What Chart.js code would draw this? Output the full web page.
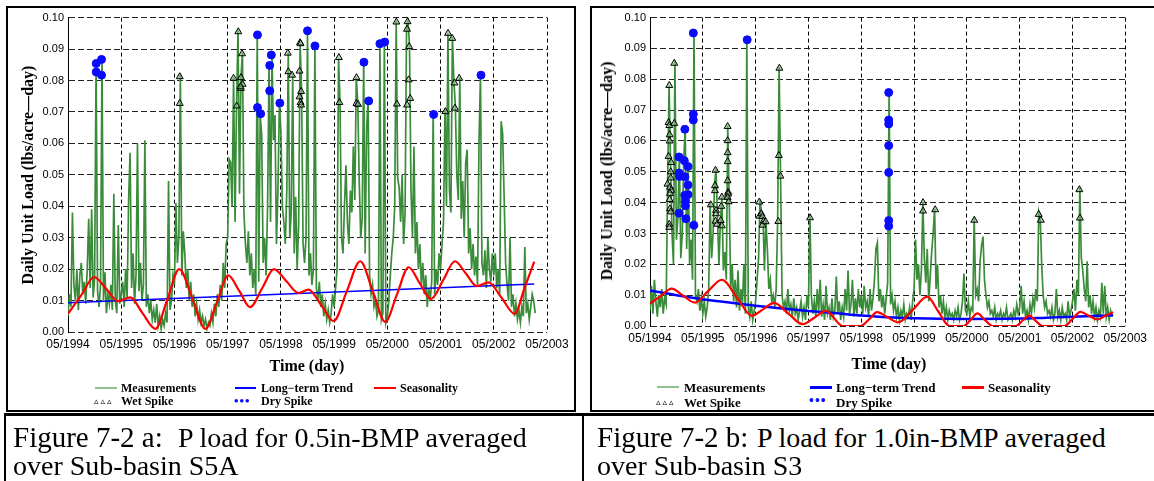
<!DOCTYPE html>
<html>
<head>
<meta charset="utf-8">
<script src="https://cdn.jsdelivr.net/npm/chart.js@4/dist/chart.umd.min.js"></script>
<style>
  body { margin: 0; width: 1154px; height: 481px; background: #fff; position: relative; overflow: hidden; }
  .abs { position: absolute; }
  .box { position: absolute; border: 2px solid #000; box-sizing: border-box; }
  .bold { position: absolute; font-family: "Liberation Serif", serif; font-weight: bold; color: #000; white-space: nowrap; line-height: 1; transform: translateY(-50%); }
  .ytitle { position: absolute; font-family: "Liberation Serif", serif; font-weight: bold; font-size: 16px; white-space: nowrap; line-height: 1; transform: translate(-50%, -50%) rotate(-90deg); }
  .xtitle { position: absolute; font-family: "Liberation Serif", serif; font-weight: bold; font-size: 16px; white-space: nowrap; line-height: 1; transform: translate(-50%, -50%); }
  .cap { position: absolute; font-family: "Liberation Serif", serif; color: #000; white-space: nowrap; line-height: 1; }
  .sw { position: absolute; }
  canvas { position: absolute; }
</style>
</head>
<body>

<div class="box" style="left:6px;top:6px;width:570px;height:406px"></div>
<div class="box" style="left:590px;top:6px;width:570px;height:406px"></div>

<canvas id="chartA" width="569" height="403" style="left:7px;top:7px"></canvas>
<canvas id="chartB" width="562" height="403" style="left:590px;top:7px"></canvas>

<div class="ytitle" style="left:28px;top:175px">Daily Unit Load (lbs/acre—day)</div>
<div class="ytitle" style="left:607px;top:171px">Daily Unit Load (lbs/acre—day)</div>
<div class="xtitle" style="left:307px;top:366px">Time (day)</div>
<div class="xtitle" style="left:889px;top:364px">Time (day)</div>

<!-- legend, left panel -->
<div class="sw" style="left:95px;top:387px;width:22px;height:2px;background:#8fc08f"></div>
<div class="bold" style="left:121px;top:388px;font-size:12px">Measurements</div>
<div class="sw" style="left:235px;top:387px;width:21px;height:1.5px;background:#0000ff"></div>
<div class="bold" style="left:261px;top:388px;font-size:12px">Long−term Trend</div>
<div class="sw" style="left:374px;top:387px;width:22px;height:1.5px;background:#ff0000"></div>
<div class="bold" style="left:400px;top:388px;font-size:12px">Seasonality</div>
<div class="bold" style="left:94px;top:401px;font-size:9px;font-weight:normal;font-family:'DejaVu Sans';letter-spacing:2px">▵▵▵</div>
<div class="bold" style="left:121px;top:401px;font-size:12px">Wet Spike</div>
<div class="bold" style="left:234px;top:400px;font-size:13px;color:#0a0aff;letter-spacing:1px">•••</div>
<div class="bold" style="left:261px;top:401px;font-size:12px">Dry Spike</div>

<!-- legend, right panel -->
<div class="sw" style="left:657px;top:386px;width:22px;height:2px;background:#8fc08f"></div>
<div class="bold" style="left:684px;top:387px;font-size:13px">Measurements</div>
<div class="sw" style="left:810px;top:386px;width:22px;height:3px;background:#0000ff"></div>
<div class="bold" style="left:836px;top:387px;font-size:13px">Long−term Trend</div>
<div class="sw" style="left:962px;top:386px;width:22px;height:3px;background:#ff0000"></div>
<div class="bold" style="left:988px;top:387px;font-size:13px">Seasonality</div>
<div class="bold" style="left:656px;top:402px;font-size:9px;font-weight:normal;font-family:'DejaVu Sans';letter-spacing:2px">▵▵▵</div>
<div class="bold" style="left:684px;top:402px;font-size:13px">Wet Spike</div>
<div class="bold" style="left:809px;top:401px;font-size:14px;color:#0a0aff;letter-spacing:1px">•••</div>
<div class="bold" style="left:836px;top:402px;font-size:13px">Dry Spike</div>

<!-- caption table -->
<div class="abs" style="left:4px;top:413px;width:1150px;height:3px;background:#000"></div>
<div class="abs" style="left:4px;top:413px;width:2px;height:68px;background:#000"></div>
<div class="abs" style="left:582px;top:413px;width:2px;height:68px;background:#000"></div>
<div class="cap" style="left:13px;top:423px;font-size:29px">Figure 7-2 a:</div>
<div class="cap" style="left:178px;top:424px;font-size:28px">P load for 0.5in-BMP averaged</div>
<div class="cap" style="left:13px;top:452px;font-size:28px">over Sub-basin S5A</div>
<div class="cap" style="left:597px;top:423px;font-size:29px">Figure 7-2 b:</div>
<div class="cap" style="left:757px;top:424px;font-size:28px">P load for 1.0in-BMP averaged</div>
<div class="cap" style="left:597px;top:452px;font-size:28px">over Sub-basin S3</div>

<script>
// time axis is years after 05/1994
var STEP = 1 / 36;   // measurement sampling (about 10 days)
var UNIT = 0.001;    // measurement arrays are in 0.001 lbs/acre-day

// ---- Figure 7-2 a : S5A, 0.5in-BMP ----
var measA = [].concat(
  [5,12,8,38,15,10,20,7,18,22,12,16,9,20,36,14,39,11,17,86,13,8,15,87,10,19,6,12,9,15,7,44,10,6,34,9],
  [12,16,8,20,11,42,57,14,25,9,18,60,13,22,10,15,61,8,12,6,10,4,7,3,9,2,5,1,4,2,6,3,48,7,10,18],
  [15,41,22,30,82,18,32,25,14,20,10,16,8,12,5,9,4,7,3,5,2,4,1,3,2,6,3,9,5,12,8,15,10,22,14,28],
  [30,55,54,40,81,35,72,96,44,81,89,38,28,22,32,18,25,14,20,12,95,16,69,63,22,30,18,40,85,35,88,61,69,28,45,73],
  [64,40,35,28,45,89,30,38,82,25,43,20,34,92,77,28,22,30,96,18,25,15,20,91,14,10,16,8,12,5,9,4,7,3,6,12],
  [8,14,20,87,73,30,25,40,53,35,28,45,38,59,42,81,73,48,30,36,86,25,65,74,18,12,15,8,10,5,7,92,4,6,93,3],
  [5,10,18,25,30,40,99,49,46,35,50,28,38,97,99,91,45,30,59,25,35,20,28,15,22,12,18,8,14,10,16,70,12,20,15,25],
  [20,28,35,71,40,95,45,38,94,80,72,50,42,81,36,48,30,54,58,25,33,20,28,18,24,15,60,82,22,18,26,14,30,20,16,25],
  [18,25,14,20,12,67,63,43,22,15,10,30,8,12,5,9,4,7,3,8,5,27,6,9,4,8,12,10,6]
);
var trendTA = [0, 8.76];
var trendVA = [0.0093, 0.0153];
var seasTA = [0,0.25,0.49,0.72,0.94,1.17,1.40,1.64,1.87,2.09,2.34,2.58,2.80,3.01,3.22,3.42,3.65,3.87,4.10,4.33,
              4.52,4.76,4.99,5.24,5.49,5.73,5.96,6.18,6.40,6.61,6.82,7.05,7.27,7.48,7.68,7.90,8.15,8.39,8.58,8.76];
var seasVA = [0.0058,0.0117,0.0175,0.0137,0.0098,0.011,0.006,0.001,0.0105,0.020,0.0105,0.001,0.0095,0.018,0.013,
              0.0079,0.014,0.020,0.0162,0.0124,0.0135,0.0085,0.0035,0.013,0.0225,0.0128,0.0032,0.0119,0.0206,0.0155,
              0.0105,0.0165,0.0225,0.0185,0.0146,0.0158,0.0108,0.0058,0.0141,0.0224];
var wetTA = [2.10,2.10,3.11,3.17,3.20,3.27,3.25,3.25,3.28,3.24,4.13,4.14,4.21,4.36,4.37,4.35,4.38,4.35,4.37,4.38,
             5.09,5.10,5.42,5.42,5.45,6.17,6.18,6.38,6.37,6.41,6.40,6.43,6.37,7.09,7.14,7.22,7.26,7.27,7.35];
var wetVA = [0.0812,0.0727,0.0807,0.0719,0.0955,0.0885,0.0809,0.0775,0.0788,0.0780,0.0887,0.0828,0.0817,0.0920,
             0.0917,0.0830,0.0765,0.0748,0.0730,0.0722,0.0873,0.0730,0.0809,0.0727,0.0724,0.0986,0.0725,0.0987,
             0.0963,0.0908,0.0802,0.0743,0.0722,0.0701,0.0950,0.0934,0.0792,0.0712,0.0807];
var dryTA = [0.53,0.53,0.63,0.63,3.56,3.56,3.62,3.79,3.82,3.79,3.98,4.50,4.64,5.56,5.65,5.86,5.95,6.87,7.76];
var dryVA = [0.0854,0.0827,0.0867,0.0817,0.0945,0.0714,0.0694,0.0848,0.0881,0.0767,0.0728,0.0958,0.0910,0.0858,
             0.0735,0.0917,0.0922,0.0692,0.0817];

// ---- Figure 7-2 b : S3, 1.0in-BMP ----
var measB = [].concat(
  [5,13,4,15,8,3,10,6,12,4,9,7,46,78,53,30,20,86,28,35,55,22,30,54,64,25,52,20,28,15,95,10,8,12,5,9],
  [4,8,3,6,12,40,22,30,46,51,35,20,34,42,18,24,15,65,41,12,20,8,15,6,18,5,12,7,20,4,93,6,3,8,2,5],
  [8,15,22,41,37,36,18,34,25,12,15,8,10,6,12,34,84,49,10,6,8,4,12,5,7,3,9,4,6,2,5,8,3,6,2,10],
  [6,36,10,4,8,3,12,5,15,3,7,2,13,4,6,2,9,3,5,16,4,8,2,6,3,12,5,18,4,7,15,3,9,4,12,6],
  [10,4,13,6,8,3,12,5,9,15,25,27,8,12,6,10,4,9,14,76,7,10,5,8,3,6,2,5,3,7,2,4,3,6,2,8],
  [12,28,15,20,10,18,40,22,14,25,8,16,24,30,38,12,20,6,10,4,8,3,6,2,5,3,4,2,5,3,6,2,4,8,17,5],
  [4,8,3,6,5,35,10,12,8,21,26,29,15,10,6,8,4,5,3,6,2,4,3,5,2,4,3,6,2,3,4,2,5,3,7,4],
  [6,13,4,8,3,5,2,7,4,9,6,12,8,37,35,20,10,6,8,4,5,3,6,2,4,12,3,5,2,6,3,4,2,8,3,5],
  [8,12,5,15,10,45,22,18,12,8,21,6,10,4,8,3,6,2,5,3,14,4,13,3,6,2,5,3]
);
var trendTB = [0,0.5,1,1.5,2,2.5,3,3.5,4,4.5,5,6,7,7.5,8,8.77];
var trendVB = [0.0115,0.0100,0.0087,0.0076,0.0066,0.0057,0.0049,0.0042,0.0034,0.0028,0.0025,0.0023,0.0024,0.0027,0.003,0.0035];
var seasTB = [0,0.2,0.41,0.63,0.85,1.1,1.36,1.65,1.93,2.14,2.35,2.62,2.89,3.11,3.33,3.65,3.99,4.15,4.30,4.50,4.70,
              4.98,5.25,5.46,5.67,5.94,6.07,6.20,6.34,6.49,6.93,7.05,7.18,7.30,7.43,7.85,8.0,8.15,8.31,8.47,8.62,8.77];
var seasVB = [0.0073,0.0097,0.0121,0.0098,0.0076,0.0113,0.015,0.0091,0.0033,0.0054,0.0075,0.004,0.0006,0.0027,0.0049,
              0,0,0.0022,0.0045,0.0028,0.0012,0.0053,0.0095,0.0047,0,0,0.002,0.0041,0.002,0,0,0.0017,0.0034,0.0017,
              0,0,0.0023,0.0046,0.0033,0.0021,0.0033,0.0045];
var wetTB = [0.365,0.351,0.365,0.372,0.372,0.351,0.40,0.393,0.393,0.331,0.379,0.40,0.379,0.372,0.379,0.393,0.365,0.365,
             0.46,0.46,1.15,1.24,1.23,1.23,1.25,1.25,1.24,1.27,1.36,1.35,1.34,1.36,1.47,1.47,1.47,1.47,1.47,1.48,1.48,
             1.47,1.49,2.07,2.07,2.11,2.13,2.15,2.13,2.19,2.45,2.44,2.47,2.43,3.03,5.17,5.17,5.40,6.14,7.36,7.40,8.13,8.14];
var wetVB = [0.078,0.066,0.065,0.062,0.060,0.055,0.053,0.050,0.048,0.046,0.045,0.044,0.043,0.041,0.038,0.037,0.033,0.032,
             0.0852,0.0657,0.0393,0.0505,0.0455,0.0439,0.0375,0.0364,0.0340,0.0330,0.0418,0.0388,0.0342,0.0325,0.0647,
             0.0601,0.0562,0.0533,0.0471,0.0434,0.0428,0.0417,0.0403,0.0402,0.0356,0.0364,0.0355,0.0340,0.0327,0.0338,
             0.0836,0.0553,0.0486,0.0339,0.0351,0.040,0.0373,0.0377,0.0343,0.0362,0.0343,0.0442,0.035];
var dryTB = [0.82,1.84,0.82,0.82,0.66,0.55,0.65,0.72,0.55,0.56,0.66,0.72,0.72,0.66,0.67,0.67,0.55,0.68,0.83,
             4.52,4.52,4.52,4.52,4.52,4.52,4.52];
var dryVB = [0.0950,0.0928,0.0687,0.0668,0.0638,0.0548,0.0536,0.0517,0.0496,0.0485,0.0484,0.0457,0.0426,0.0424,
             0.0406,0.0390,0.0366,0.0348,0.0327,0.0757,0.0668,0.0655,0.0585,0.0498,0.0342,0.0324];

var startYear = 1994;
var yearCount = 9;

function toPoints(ts, vs) {
  return ts.map(function (t, i) { return { x: t, y: vs[i] }; });
}

function buildChart(id, c) {
  var meas = c.meas.map(function (v, i) { return { x: i * STEP, y: v * UNIT }; });
  return new Chart(document.getElementById(id), {
    type: 'line',
    data: {
      datasets: [
        { data: meas, borderColor: '#3a8c3a', borderWidth: 1.7, pointRadius: 0, order: 5 },
        { data: toPoints(c.trendT, c.trendV), borderColor: '#0000ff', borderWidth: c.trendWidth,
          pointRadius: 0, cubicInterpolationMode: 'monotone', order: 4 },
        { data: toPoints(c.seasT, c.seasV), borderColor: '#ff0000', borderWidth: 2.2,
          pointRadius: 0, cubicInterpolationMode: 'monotone', order: 3 },
        { data: toPoints(c.wetT, c.wetV), showLine: false, pointStyle: 'triangle', pointRadius: 4,
          pointBorderColor: '#000', pointBackgroundColor: 'rgba(140,185,140,0.6)', pointBorderWidth: 1, order: 2 },
        { data: toPoints(c.dryT, c.dryV), showLine: false, pointStyle: 'circle', pointRadius: 4,
          pointBorderColor: '#0a0aff', pointBackgroundColor: '#0a0aff', pointBorderWidth: 1, order: 1 }
      ]
    },
    options: {
      responsive: false,
      animation: false,
      devicePixelRatio: 1,
      layout: { padding: { top: c.padTop, right: c.padRight, left: 0, bottom: 0 } },
      plugins: { legend: { display: false }, tooltip: { enabled: false } },
      scales: {
        x: {
          type: 'linear', min: 0, max: yearCount,
          afterFit: function (s) { s.height = c.xAxisH; },
          ticks: {
            stepSize: 1, padding: 5, maxRotation: 0, autoSkip: false, color: '#000',
            font: { family: 'Liberation Sans', size: 12 },
            callback: function (v) { return '05/' + (startYear + v); }
          },
          grid: { color: '#000', lineWidth: 1, drawTicks: false },
          border: { display: false, dash: [4, 3] }
        },
        y: {
          min: 0, max: 0.1,
          afterFit: function (s) { s.width = c.yAxisW; },
          ticks: {
            stepSize: 0.01, padding: 4, color: '#000',
            font: { family: 'Liberation Sans', size: 11 },
            callback: function (v) { return v.toFixed(2); }
          },
          grid: { color: '#222', lineWidth: 1, drawTicks: false },
          border: { display: true, color: '#000', width: 1, dash: [6, 3] }
        }
      }
    }
  });
}

buildChart('chartA', {
  meas: measA, trendT: trendTA, trendV: trendVA, seasT: seasTA, seasV: seasVA,
  wetT: wetTA, wetV: wetVA, dryT: dryTA, dryV: dryVA,
  trendWidth: 1.5, padTop: 10, padRight: 29, yAxisW: 61, xAxisH: 78
});
buildChart('chartB', {
  meas: measB, trendT: trendTB, trendV: trendVB, seasT: seasTB, seasV: seasVB,
  wetT: wetTB, wetV: wetVB, dryT: dryTB, dryV: dryVB,
  trendWidth: 2.5, padTop: 9, padRight: 24, yAxisW: 60, xAxisH: 84
});
</script>
</body>
</html>
